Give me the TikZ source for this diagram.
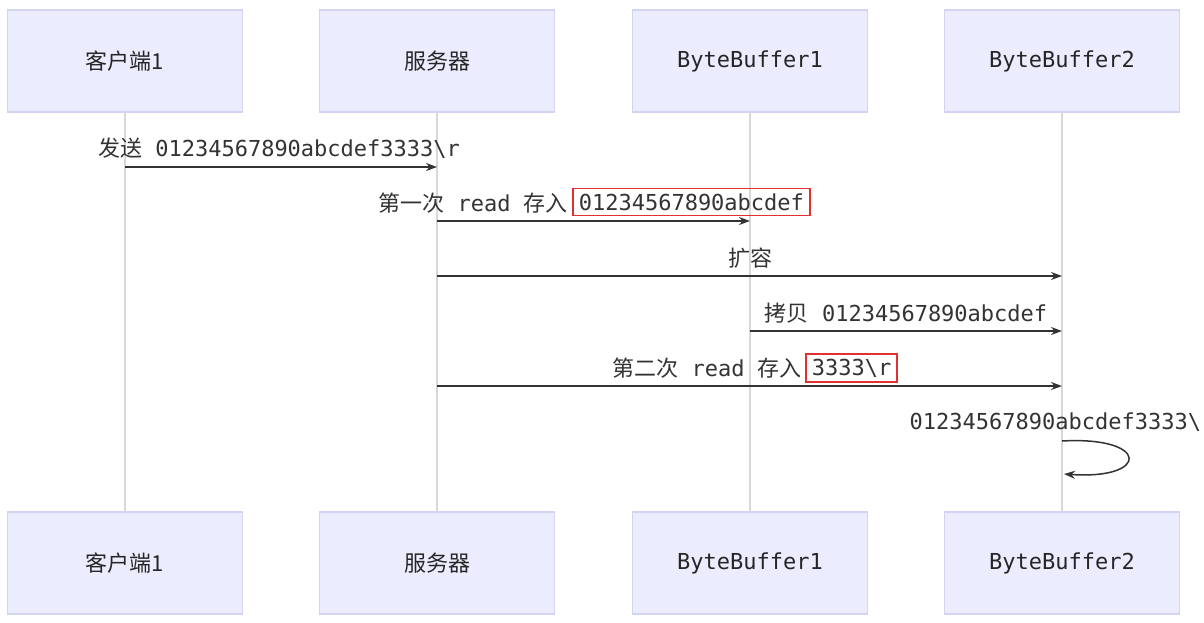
\documentclass[tikz,border=0pt]{standalone}
\usepackage{fontspec}
\newfontfamily\cjk{Noto Sans CJK SC}
\newfontfamily\mono{DejaVu Sans Mono}
\usetikzlibrary{arrows.meta}
\definecolor{boxfill}{HTML}{ECECFF}
\definecolor{boxline}{HTML}{D4D4F2}
\definecolor{life}{HTML}{D8D8D8}
\definecolor{msg}{HTML}{333333}
\definecolor{redb}{HTML}{E03030}
\tikzset{
  actor/.style={draw=boxline,fill=boxfill,line width=1.2pt,minimum width=235pt,minimum height=102pt,inner sep=0pt,font=\fontsize{22}{26}\selectfont,text=black!85},
  lifeline/.style={draw=life,line width=1.5pt},
  msgline/.style={draw=msg,line width=1.5pt,-{Stealth[length=11pt,width=8pt]}},
  lbl/.style={font=\fontsize{22}{26}\selectfont\mono,text=black!80,inner sep=0pt},
  redbox/.style={draw=redb,line width=1.6pt,inner xsep=6pt,inner ysep=5pt,font=\fontsize{22}{26}\selectfont\mono,text=black!80}
}
\begin{document}
\begin{tikzpicture}[x=1pt,y=-1pt]
\fill[white] (0,0) rectangle (1204,622);
\useasboundingbox (0,0) rectangle (1204,622);
\foreach \n/\x/\t in {c/125/{\cjk 客户端1},s/437/{\cjk 服务器},b/750/{\mono ByteBuffer1},d/1062/{\mono ByteBuffer2}}{
  \node[actor] (\n top) at (\x,61) {\t};
  \node[actor] (\n bot) at (\x,563) {\t};
  \draw[lifeline] (\n top.south) -- (\n bot.north);
}
% message 1
\coordinate (m1a) at (125,167); \coordinate (m1b) at (437,167);
\draw[msgline] (m1a) -- (m1b);
\node[lbl] (l1) at (279,148) {{\cjk 发送} 01234567890abcdef3333\textbackslash r};
% message 2
\coordinate (m2a) at (437,221); \coordinate (m2b) at (750,221);
\draw[msgline] (m2a) -- (m2b);
\node[lbl,anchor=east] (l2) at (568,203) {{\cjk 第一次} read {\cjk 存入}};
\node[redbox,anchor=west] (r2) at (572,202) {01234567890abcdef};
% message 3
\coordinate (m3a) at (437,276); \coordinate (m3b) at (1062,276);
\draw[msgline] (m3a) -- (m3b);
\node[lbl] (l3) at (750,258) {\cjk 扩容};
% message 4
\coordinate (m4a) at (750,331); \coordinate (m4b) at (1062,331);
\draw[msgline] (m4a) -- (m4b);
\node[lbl] (l4) at (906,313) {{\cjk 拷贝} 01234567890abcdef};
% message 5
\coordinate (m5a) at (437,386); \coordinate (m5b) at (1062,386);
\draw[msgline] (m5a) -- (m5b);
\node[lbl,anchor=east] (l5) at (802,368) {{\cjk 第二次} read {\cjk 存入}};
\node[redbox,anchor=west] (r5) at (805,368) {3333\textbackslash r};
% self message
\node[lbl] (l6) at (1062,422) {01234567890abcdef3333\textbackslash r};
\coordinate (s1) at (1062,441); \coordinate (s2) at (1064,474);
\draw[msgline] (s1) .. controls (1150,436) and (1150,480) .. (s2);
\end{tikzpicture}
\end{document}
